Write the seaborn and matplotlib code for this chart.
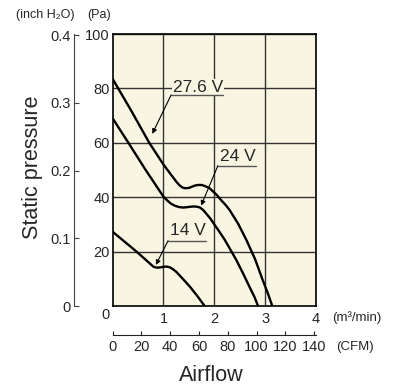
import pandas as pd
import seaborn as sns
import matplotlib.pyplot as plt

# ======| Data |======

volts = ["27.6 V", "24 V", "14 V"]

flow_276 = [0, 0.36, 0.72, 1.0, 1.2, 1.27, 1.32, 1.37, 1.42, 1.5, 1.55, 1.62, 1.68, 1.75, 1.8,
            1.9, 1.97, 2.05, 2.13, 2.22, 2.3, 2.47, 2.63, 2.8, 2.95, 3.05, 3.14]
pres_276 = [83.5, 72, 60, 52, 47, 45.3, 44.3, 43.6, 43.3, 43.4, 43.8, 44.3, 44.5, 44.5, 44.2,
            43.4, 42.2, 40.8, 39, 37.2, 35.3, 30.2, 24.3, 17.3, 9.6, 4.8, 0]

flow_24 = [0, 0.31, 0.65, 1.0, 1.08, 1.15, 1.22, 1.3, 1.38, 1.45, 1.53, 1.6, 1.66, 1.72, 1.78,
           1.84, 1.92, 2.0, 2.1, 2.2, 2.43, 2.57, 2.69, 2.79, 2.86]
pres_24 = [69, 60, 50, 40.2, 38.7, 37.6, 36.9, 36.4, 36.2, 36.3, 36.5, 36.6, 36.5, 36.2, 35.3,
           34, 32.2, 30, 27.3, 24.5, 17, 11.8, 7.1, 3.3, 0]

flow_14 = [0, 0.47, 0.8, 0.84, 0.88, 0.94, 1.0, 1.05, 1.09, 1.14, 1.18, 1.25, 1.38, 1.52, 1.66, 1.81]
pres_14 = [27.3, 20, 14.5, 14.2, 14.1, 14.2, 14.4, 14.5, 14.4, 14.1, 13.6, 12.6, 10, 7.1, 3.8, 0]

m3min_ticks = [1, 2, 3, 4]
pa_ticks = [20, 40, 60, 80, 100]
inch_ticks = [0, 0.1, 0.2, 0.3, 0.4]
inch_labels = ["0", "0.1", "0.2", "0.3", "0.4"]
cfm_ticks = [0, 20, 40, 60, 80, 100, 120, 140]

# label text spot, underline span, arrow tip
label_xy = [(1.68, 80.3), (2.46, 54.9), (1.48, 27.9)]
underline_x = [(1.15, 2.17), (2.07, 2.82), (1.09, 1.84)]
underline_y = [77.6, 51.6, 24.0]
arrow_tip = [(0.78, 63.3), (1.74, 36.9), (0.85, 15.1)]

PA_PER_INCH = 249.09
CFM_PER_M3MIN = 35.3147

dados = pd.concat(
    [
        pd.DataFrame({"flow": flow_276, "pres": pres_276, "volt": volts[0]}),
        pd.DataFrame({"flow": flow_24, "pres": pres_24, "volt": volts[1]}),
        pd.DataFrame({"flow": flow_14, "pres": pres_14, "volt": volts[2]}),
    ]
)

sns.set_style("white")
plt.rcParams["font.family"] = ["Liberation Sans", "DejaVu Sans"]

cream = "#f9f5e3"
fig = plt.figure(figsize=(3.98, 3.87), dpi=100)
ax = fig.add_axes([0.283, 0.2093, 0.511, 0.7028])
ax.set_facecolor(cream)

sns.lineplot(
    data=dados, x="flow", y="pres", hue="volt", palette=["black"] * 3,
    linewidth=1.7, legend=False, ax=ax, sort=False, estimator=None,
)

ax.set_xlim(0, 4)
ax.set_ylim(0, 100)
ax.set_xticks(m3min_ticks)
ax.set_yticks(pa_ticks)
ax.tick_params(axis="x", length=0, pad=4.5, labelsize=10.5)
ax.tick_params(axis="y", length=0, pad=2, labelsize=10.5)
ax.set_xlabel("")
ax.set_ylabel("")
ax.grid(True, color="#333333", linewidth=1)
for s in ax.spines.values():
    s.set_color("black")
    s.set_linewidth(1.2)

# shared corner zero
ax.text(-0.035, -0.033, "0", transform=ax.transAxes, ha="center", va="center", fontsize=10.5)

# ======| inch H2O axis |======
inch = ax.secondary_yaxis(
    -0.19, functions=(lambda p: p / PA_PER_INCH, lambda i: i * PA_PER_INCH)
)
inch.set_yticks(inch_ticks)
inch.set_yticklabels(inch_labels)
inch.tick_params(direction="in", length=3.5, pad=2.5, labelsize=10.5, color="#444444")
inch.spines["left"].set_color("#444444")

# ======| CFM axis |======
cfm = ax.secondary_xaxis(
    -0.107, functions=(lambda m: m * CFM_PER_M3MIN, lambda c: c / CFM_PER_M3MIN)
)
cfm.set_xticks(cfm_ticks)
cfm.tick_params(direction="in", length=3, pad=3.5, labelsize=10.5, color="#222222")
cfm.spines["bottom"].set_color("#222222")

# ======| voltage labels |======
for nome, (tx, ty), (u0, u1), uy, (ax_, ay) in zip(volts, label_xy, underline_x, underline_y, arrow_tip):
    ax.text(tx, ty, nome, ha="center", va="center", fontsize=12.5,
            bbox=dict(facecolor=cream, edgecolor="none", pad=0.5), zorder=4)
    ax.plot([u0, u1], [uy, uy], color="#555555", linewidth=1, zorder=5)
    ax.annotate("", xy=(ax_, ay), xytext=(u0, uy), zorder=5,
                arrowprops=dict(arrowstyle="-|>", color="black", lw=0.8,
                                mutation_scale=7, shrinkA=0, shrinkB=0))

# ======| axis titles and units |======
ax.text(1.079, -0.044, "(m³/min)", transform=ax.transAxes, ha="left", va="center", fontsize=9.5)
ax.text(1.098, -0.151, "(CFM)", transform=ax.transAxes, ha="left", va="center", fontsize=9.5)
ax.text(-0.33, 1.07, "(inch H₂O)", transform=ax.transAxes, ha="center", va="center", fontsize=9)
ax.text(-0.065, 1.07, "(Pa)", transform=ax.transAxes, ha="center", va="center", fontsize=9)
ax.text(-0.392, 0.511, "Static pressure", transform=ax.transAxes, ha="center", va="center",
        rotation=90, fontsize=15.5)
ax.text(0.487, -0.254, "Airflow", transform=ax.transAxes, ha="center", va="center", fontsize=15.5)

plt.savefig("out.png", dpi=100)
